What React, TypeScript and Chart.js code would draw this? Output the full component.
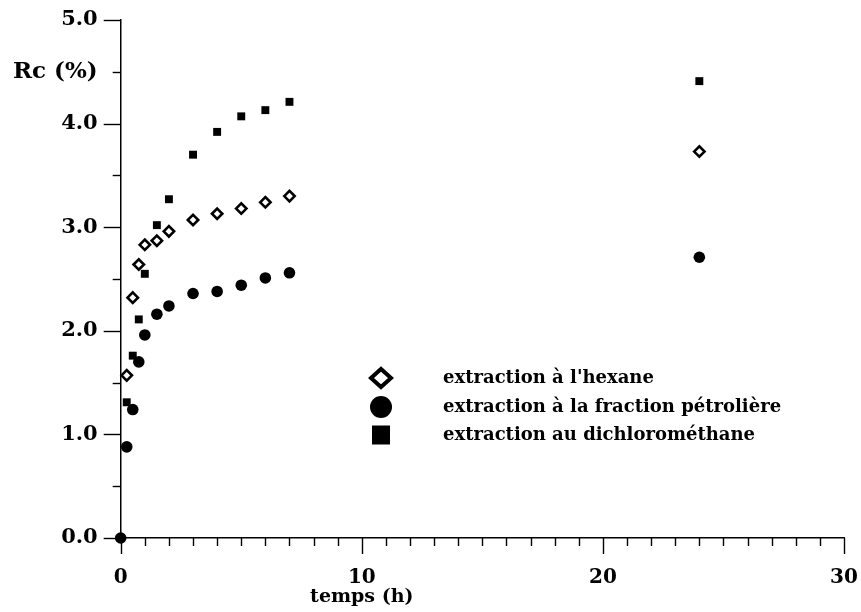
import { useEffect, useRef } from 'react';
import { Chart, registerables } from 'chart.js';

Chart.register(...registerables);

// ---- Data ----
const TIME_H = [0, 0.25, 0.5, 0.75, 1, 1.5, 2, 3, 4, 5, 6, 7, 24];
const HEXANE = [null, 1.57, 2.32, 2.64, 2.83, 2.87, 2.96, 3.07, 3.13, 3.18, 3.24, 3.3, 3.73];
const PETROLE = [0, 0.88, 1.24, 1.7, 1.96, 2.16, 2.24, 2.36, 2.38, 2.44, 2.51, 2.56, 2.71];
const DICHLORO = [null, 1.31, 1.76, 2.11, 2.55, 3.02, 3.27, 3.7, 3.92, 4.07, 4.13, 4.21, 4.41];

const SERIES_LABELS = [
  "extraction à l'hexane",
  'extraction à la fraction pétrolière',
  'extraction au dichlorométhane',
];
const X_TITLE = 'temps (h)';
const Y_TITLE = 'Rc (%)';
const X_MIN = 0;
const X_MAX = 30;
const X_MAJOR_STEP = 10;
const Y_MIN = 0;
const Y_MAX = 5;

const FONT_FAMILY = "'DejaVu Serif', 'Liberation Serif', serif";

const toPoints = (ys: (number | null)[]) =>
  TIME_H.map((t, i) => ({ x: t, y: ys[i] })).filter((p) => p.y !== null) as { x: number; y: number }[];

const axisTicksPlugin = {
  id: 'axisTicks',
  afterDraw(chart: any) {
    const { ctx } = chart;
    const x = chart.scales.x;
    const y = chart.scales.y;
    ctx.save();
    ctx.strokeStyle = '#000';
    ctx.lineWidth = 1.4;
    const y0 = y.getPixelForValue(Y_MIN);
    for (let v = X_MIN; v <= X_MAX; v += 1) {
      const px = Math.round(x.getPixelForValue(v)) + 0.5;
      const len = v % X_MAJOR_STEP === 0 ? 16 : 8;
      ctx.beginPath();
      ctx.moveTo(px, y0);
      ctx.lineTo(px, y0 + len);
      ctx.stroke();
    }
    const x0 = x.getPixelForValue(X_MIN);
    for (let k = 0; k <= (Y_MAX - Y_MIN) * 2; k++) {
      const v = Y_MIN + k * 0.5;
      const py = Math.round(y.getPixelForValue(v)) + 0.5;
      const len = k % 2 === 0 ? 17 : 8;
      ctx.beginPath();
      ctx.moveTo(x0 - len, py);
      ctx.lineTo(x0, py);
      ctx.stroke();
    }

    // x-axis title, centred under the "10" tick
    ctx.fillStyle = '#000';
    ctx.font = `bold 19px ${FONT_FAMILY}`;
    ctx.textAlign = 'center';
    ctx.textBaseline = 'middle';
    ctx.fillText(X_TITLE, x.getPixelForValue(10), 597);

    // legend
    const lx = 381;
    const tx = 443;
    const rows = [378, 407, 435];
    ctx.font = `bold 18px ${FONT_FAMILY}`;
    ctx.textAlign = 'left';
    ctx.textBaseline = 'middle';
    // diamond
    ctx.beginPath();
    ctx.moveTo(lx - 10, rows[0]);
    ctx.lineTo(lx, rows[0] - 9);
    ctx.lineTo(lx + 10, rows[0]);
    ctx.lineTo(lx, rows[0] + 9);
    ctx.closePath();
    ctx.fillStyle = '#fff';
    ctx.fill();
    ctx.lineWidth = 4;
    ctx.lineJoin = 'miter';
    ctx.strokeStyle = '#000';
    ctx.stroke();
    // circle
    ctx.fillStyle = '#000';
    ctx.beginPath();
    ctx.arc(lx, rows[1], 11, 0, Math.PI * 2);
    ctx.fill();
    // square
    ctx.fillRect(lx - 9, rows[2] - 9.5, 18, 19);
    SERIES_LABELS.forEach((label, i) => {
      ctx.fillText(label, tx, rows[i]);
    });
    ctx.restore();
  },
};

export default function App() {
  const canvasRef = useRef<HTMLCanvasElement | null>(null);

  useEffect(() => {
    if (!canvasRef.current) return;
    const chart = new Chart(canvasRef.current, {
      type: 'scatter',
      data: {
        datasets: [
          {
            label: SERIES_LABELS[1],
            data: toPoints(PETROLE),
            pointStyle: 'circle',
            pointRadius: 5.8,
            backgroundColor: '#000',
            borderColor: '#000',
            borderWidth: 0,
            clip: false as any,
          },
          {
            label: SERIES_LABELS[0],
            data: toPoints(HEXANE),
            pointStyle: 'rectRot',
            pointRadius: 5.2,
            backgroundColor: '#fff',
            borderColor: '#000',
            borderWidth: 2.6,
            clip: false as any,
          },
          {
            label: SERIES_LABELS[2],
            data: toPoints(DICHLORO),
            pointStyle: 'rect',
            pointRadius: 5.6,
            backgroundColor: '#000',
            borderColor: '#000',
            borderWidth: 0,
            clip: false as any,
          },
        ],
      },
      options: {
        animation: false,
        responsive: true,
        maintainAspectRatio: false,
        layout: { padding: { top: 20, right: 17, left: 0, bottom: 0 } },
        plugins: {
          legend: { display: false },
          tooltip: { enabled: false },
        },
        scales: {
          x: {
            type: 'linear',
            min: X_MIN,
            max: X_MAX,
            grid: { display: false, drawTicks: false },
            border: { display: true, color: '#000', width: 1.5 },
            ticks: {
              stepSize: X_MAJOR_STEP,
              color: '#000',
              padding: 28,
              font: { family: FONT_FAMILY, size: 20, weight: 'bold' },
            },
            afterFit: (scale: any) => {
              scale.height = 74;
              scale.paddingLeft = 0;
              scale.paddingRight = 0;
            },
          },
          y: {
            type: 'linear',
            min: Y_MIN,
            max: Y_MAX,
            grid: { display: false, drawTicks: false },
            border: { display: true, color: '#000', width: 1.5 },
            ticks: {
              stepSize: 0.5,
              autoSkip: false,
              color: '#000',
              padding: 23,
              font: (c: any) => ({
                family: FONT_FAMILY,
                size: c.tick && Math.abs(c.tick.value - 4.5) < 1e-9 ? 23 : 21,
                weight: 'bold',
              }),
              callback: (v: any) => {
                const n = Number(v);
                if (Math.abs(n - 4.5) < 1e-9) return Y_TITLE;
                if (Math.abs(n - Math.round(n)) < 1e-9) return n.toFixed(1);
                return '';
              },
            },
            afterFit: (scale: any) => {
              scale.width = 120.7;
              scale.paddingTop = 0;
              scale.paddingBottom = 0;
            },
          },
        },
      },
      plugins: [axisTicksPlugin],
    });
    return () => chart.destroy();
  }, []);

  return (
    <div style={{ position: 'absolute', left: 0, top: 0, width: 861, height: 612, background: '#fff' }}>
      <canvas ref={canvasRef} />
    </div>
  );
}
